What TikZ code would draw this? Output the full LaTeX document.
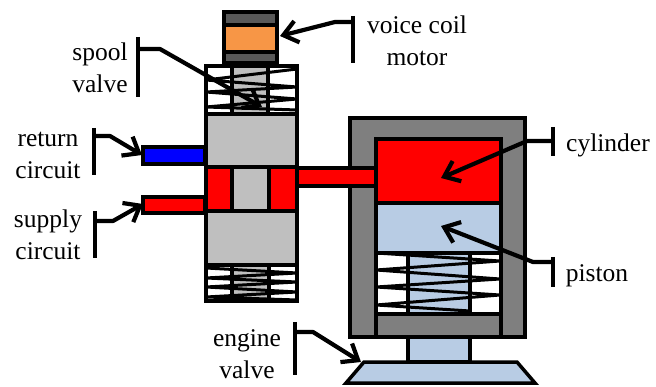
\documentclass[tikz,border=0pt]{standalone}
\usepackage{fontspec}
\setmainfont{Liberation Serif}
\usetikzlibrary{arrows.meta}
\definecolor{coilgray}{RGB}{89,89,89}
\definecolor{coilorange}{RGB}{247,150,70}
\definecolor{bodygray}{RGB}{191,191,191}
\definecolor{shellgray}{RGB}{127,127,127}
\definecolor{pistonblue}{RGB}{184,204,228}
\tikzset{
part/.style={draw=black,line width=3.5pt,line join=miter},
coil/.style={draw=black,line width=3pt,line join=bevel},
leader/.style={draw=black,line width=4.2pt,line join=round},
pointer/.style={leader,-{Straight Barb[length=14pt,width=22pt,line width=4.2pt]}},
tag/.style={align=center,inner sep=0pt,font=\fontsize{25.5}{32}\selectfont}
}
\begin{document}
\begin{tikzpicture}[x=1pt,y=-1pt]
\useasboundingbox (0,0) rectangle (656,387);
% motor
\draw[part,fill=coilgray] (224,12) rectangle (277,63);
\draw[part,fill=coilorange] (224,25) rectangle (277,52);
% spool valve
\draw[part,fill=white] (206,66) rectangle (297,114);
\draw[part,fill=bodygray] (232,66) rectangle (268,114);
\draw[coil] (297,69) -- (206,80) -- (297,87) -- (206,92) -- (297,99) -- (206,107) -- (297,110);
\draw[part,fill=bodygray] (206,114) rectangle (297,167);
\draw[part,fill=bodygray] (206,211) rectangle (297,265);
\draw[part,fill=white] (206,265) rectangle (297,301);
\draw[part,fill=bodygray] (232,265) rectangle (269,301);
\draw[coil] (206,268) -- (297,273) -- (206,278) -- (297,282) -- (206,287) -- (297,292) -- (206,297) -- (297,300);
\draw[part,fill=bodygray] (206,167) rectangle (297,211);
\draw[part,fill=red] (206,167) rectangle (232,211);
\draw[part,fill=red] (269,167) rectangle (297,211);
% pipes
\draw[part,fill=blue] (143,147) rectangle (205,164);
\draw[part,fill=red] (143,197) rectangle (205,213);
% cylinder
\draw[part,fill=shellgray] (350,118) rectangle (525,337);
\draw[part,fill=red] (376,139) rectangle (501,203);
\draw[part,fill=pistonblue] (376,203) rectangle (501,253);
\draw[part,fill=white] (376,253) rectangle (501,314);
\draw[part,fill=pistonblue] (408,253) rectangle (470,314);
\draw[coil] (376,253) -- (500,261) -- (376,270) -- (500,279) -- (376,287) -- (500,295) -- (376,305) -- (470,311);
\draw[part,fill=shellgray] (376,314) rectangle (501,337);
\draw[part,fill=red] (297,168) rectangle (376,186);
% engine valve
\draw[part,fill=pistonblue] (408,337) rectangle (470,362);
\draw[part,fill=pistonblue] (364,362) -- (517,362) -- (535,383) -- (346,383) -- cycle;
% labels
\node[tag] (coiltag) at (417,41) {voice coil\\motor};
\node[tag] (spooltag) at (100,68) {spool\\valve};
\node[tag] (returntag) at (48,155) {return\\circuit};
\node[tag] (supplytag) at (48,235) {supply\\circuit};
\node[tag] (enginetag) at (247,354) {engine\\valve};
\node[tag] (cylindertag) at (608,145) {cylinder};
\node[tag] (pistontag) at (597,276) {piston};
% leaders
\coordinate (coilend) at (280,36);
\coordinate (spoolend) at (262,107);
\coordinate (returnend) at (142,155);
\coordinate (supplyend) at (143,204);
\coordinate (engineend) at (361,362);
\coordinate (cylinderend) at (441,178);
\coordinate (pistonend) at (441,226);
\draw[leader] (353,16) -- (353,63);
\draw[pointer] (353,22) -- (335,22) -- (coilend);
\draw[leader] (138,37) -- (138,97);
\draw[pointer] (138,49) -- (160,49) -- (spoolend);
\draw[leader] (94,128) -- (94,175);
\draw[pointer] (94,136) -- (110,136) -- (returnend);
\draw[leader] (95,211) -- (95,258);
\draw[pointer] (95,221) -- (113,221) -- (supplyend);
\draw[leader] (295,322) -- (295,375);
\draw[pointer] (295,332) -- (313,332) -- (engineend);
\draw[leader] (553,127) -- (553,156);
\draw[pointer] (553,141) -- (527,141) -- (cylinderend);
\draw[leader] (553,257) -- (553,287);
\draw[pointer] (553,262) -- (533,262) -- (pistonend);
\end{tikzpicture}
\end{document}
